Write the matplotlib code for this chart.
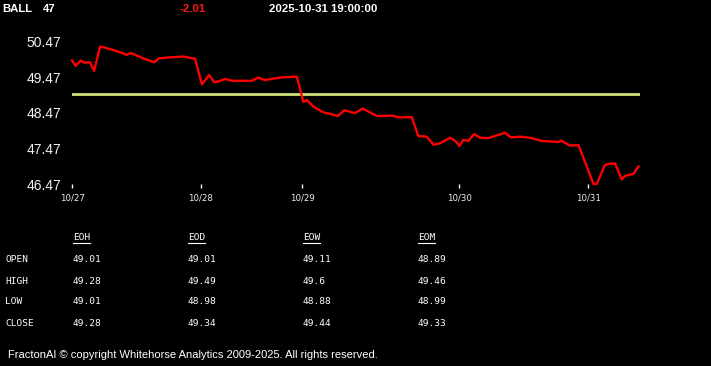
#!/usr/bin/env python3
# -*- coding: utf-8 -*-
"""

Intraday price chart with summary table.

"""

import matplotlib
matplotlib.use('Agg')
import matplotlib.pyplot as plt
from matplotlib.lines import Line2D

# Header
ticker = 'BALL'
last = '47'
change = '-2.01'
stamp = '2025-10-31 19:00:00'

# Price series (bar index, price)
x_idx = [0, 1.4, 3.4, 4.7, 7.0, 8.6, 10.9, 12.8, 18.0, 21.3, 22.9, 27.7, 32.0, 33.8,
         38.1, 43.3, 47.8, 50.5, 53.3, 55.3, 56.9, 59.5, 62.1, 69.9, 72.4, 75.0,
         80.9, 87.4, 89.9, 91.3, 93.9, 97.8, 101.0, 103.3, 105.8, 108.1, 110.0,
         113.0, 118.5, 124.3, 127.5, 132.1, 134.6, 137.9, 140.6, 143.2, 147.0,
         149.0, 150.6, 152.1, 154.1, 156.3, 158.6, 161.9, 165.7, 168.4, 170.6,
         174.2, 178.7, 182.6, 189.1, 190.1, 193.6, 196.9, 200.1, 202.7, 204.0,
         207.2, 209.2, 211.1, 213.7, 215.0, 218.2, 220.2]
price = [49.94, 49.79, 49.94, 49.88, 49.89, 49.65, 50.33, 50.30, 50.19, 50.10, 50.15,
         50.00, 49.89, 50.00, 50.03, 50.05, 49.99, 49.27, 49.53, 49.33, 49.35, 49.42,
         49.37, 49.37, 49.46, 49.39, 49.46, 49.49, 48.78, 48.83, 48.64, 48.48, 48.43,
         48.38, 48.54, 48.50, 48.46, 48.59, 48.38, 48.39, 48.34, 48.35, 47.82, 47.80,
         47.57, 47.62, 47.77, 47.68, 47.54, 47.71, 47.68, 47.87, 47.77, 47.76, 47.85,
         47.91, 47.78, 47.80, 47.76, 47.68, 47.65, 47.69, 47.55, 47.56, 46.96, 46.47,
         46.47, 47.01, 47.04, 47.05, 46.60, 46.70, 46.75, 46.96]
ref_level = 49.0

# Axis ticks
y_ticks = [46.47, 47.47, 48.47, 49.47, 50.47]
x_tick_pos = [0, 50.1, 89.5, 150.6, 200.7]
x_tick_lab = ['10/27', '10/28', '10/29', '10/30', '10/31']

# Summary table
col_names = ['EOH', 'EOD', 'EOW', 'EOM']
row_names = ['OPEN', 'HIGH', 'LOW', 'CLOSE']
eoh = ['49.01', '49.28', '49.01', '49.28']
eod = ['49.01', '49.49', '48.98', '49.34']
eow = ['49.11', '49.6', '48.88', '49.44']
eom = ['48.89', '49.46', '48.99', '49.33']

footer = 'FractonAI \u00a9 copyright Whitehorse Analytics 2009-2025. All rights reserved.'

W, H = 711, 366

def fx(px):
    return px / W

def fy(py):
    return 1 - py / H

#%%

fig = plt.figure(figsize=(W / 100, H / 100), dpi=100, facecolor='black')

# Chart area (pixels: left 72, right 640, top 37, bottom 184)
ax = fig.add_axes([fx(72), fy(184), (640 - 72) / W, (184 - 37) / H])
ax.set_facecolor('black')
for s in ax.spines.values():
    s.set_visible(False)

ax.plot(x_idx, price, color='#ff0000', lw=1.7, clip_on=False, zorder=3,
        solid_joinstyle='round')
ax.axhline(ref_level, color='#d4e07a', lw=2, zorder=2)

ax.set_xlim(0, 220.8)
ax.set_ylim(46.47, 50.6)

ax.set_yticks(y_ticks)
ax.set_yticklabels([f'{v:.2f}' for v in y_ticks])
ax.tick_params(axis='y', length=0, pad=8, labelcolor='#f0f0f0', labelsize=10)
for t in ax.get_yticklabels():
    t.set_family('Liberation Sans')

ax.set_xticks(x_tick_pos)
ax.set_xticklabels(x_tick_lab)
ax.tick_params(axis='x', length=3, width=1, color='white', pad=4,
               labelcolor='#f0f0f0', labelsize=6.2)

# Header
hdr = dict(family='Liberation Sans', weight='bold', va='center', fontsize=8.2)
fig.text(fx(2), fy(9), ticker, color='white', **hdr)
fig.text(fx(43), fy(9), last, color='white', **hdr)
fig.text(fx(193), fy(9), change, color='#ff1a1a', ha='center', **hdr)
fig.text(fx(269), fy(9), stamp, color='white', **hdr)

# Table
mono = dict(family='DejaVu Sans Mono', fontsize=6.8, color='white', va='center')
col_x = [73, 188, 303, 418]
row_y = [260, 281, 302, 324]
cols = [eoh, eod, eow, eom]
for cx, name, vals in zip(col_x, col_names, cols):
    fig.text(fx(cx), fy(238), name, **mono)
    fig.add_artist(Line2D([fx(cx), fx(cx + 17)], [fy(243), fy(243)],
                          color='white', lw=0.8))
    for ry, v in zip(row_y, vals):
        fig.text(fx(cx), fy(ry), v, **mono)
for ry, name in zip(row_y, row_names):
    fig.text(fx(5), fy(ry), name, **mono)

fig.text(fx(8), fy(355), footer, family='Liberation Sans', fontsize=8,
         color='white', va='center')

plt.savefig('out.png', dpi=100, facecolor='black')
